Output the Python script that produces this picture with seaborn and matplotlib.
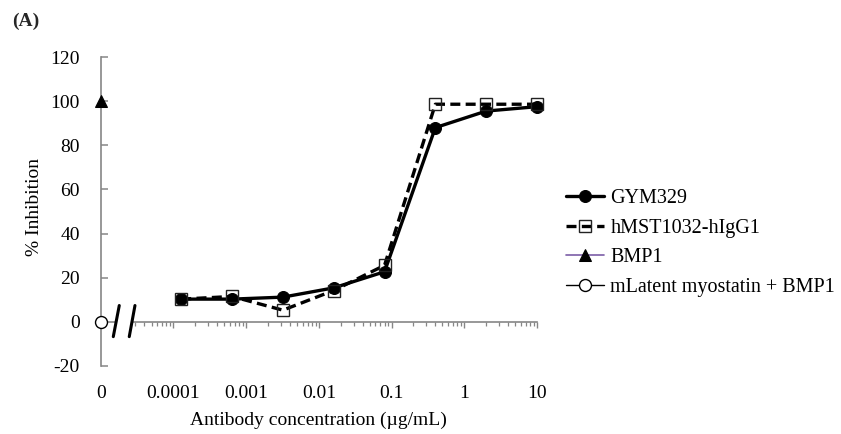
import numpy as np
import pandas as pd
import matplotlib
matplotlib.use("Agg")
import matplotlib.pyplot as plt
from matplotlib.ticker import FixedLocator, NullLocator
import seaborn as sns

# ---------------- data ----------------
conc = [0.000128, 0.00064, 0.0032, 0.016, 0.08, 0.4, 2, 10]
gym329 = [10.3, 10.3, 11.2, 15.4, 22.7, 88.0, 95.5, 97.5]
hmst1032 = [10.3, 11.5, 5.3, 14.2, 25.6, 98.6, 98.6, 98.6]
ctrl_conc = [0]
bmp1 = [100]
mlatent_bmp1 = [0]
xtick_vals = [0, 0.0001, 0.001, 0.01, 0.1, 1, 10]
xtick_labels = ["0", "0.0001", "0.001", "0.01", "0.1", "1", "10"]
yticks = [-20, 0, 20, 40, 60, 80, 100, 120]

ZERO_POS = 1e-5  # where "0" sits on the broken log axis

def xpos(v):
    return [ZERO_POS if c == 0 else c for c in v]

# ---------------- style ----------------
sns.set_theme(style="white")
plt.rcParams["font.family"] = ["Liberation Serif", "DejaVu Serif"]
plt.rcParams["axes.unicode_minus"] = False
FS = 14
GRAY = "#868686"

fig = plt.figure(figsize=(8.41, 4.34), dpi=100)
ax = fig.add_axes([100.7 / 841, 68 / 434, 436.3 / 841, 309 / 434])

df_g = pd.DataFrame({"x": conc, "y": gym329})
df_h = pd.DataFrame({"x": conc, "y": hmst1032})
df_b = pd.DataFrame({"x": xpos(ctrl_conc), "y": bmp1})
df_m = pd.DataFrame({"x": xpos(ctrl_conc), "y": mlatent_bmp1})

sns.lineplot(data=df_g, x="x", y="y", ax=ax, color="black", lw=2.4,
             marker="o", markersize=8.6, markerfacecolor="black",
             markeredgecolor="black", label="GYM329", zorder=3)
sns.lineplot(data=df_h, x="x", y="y", ax=ax, color="black", lw=2.4,
             linestyle=(0, (3, 1.6)), marker="s", markersize=8.6,
             markerfacecolor="none", markeredgecolor="#222222",
             markeredgewidth=1.0, label="hMST1032-hIgG1", zorder=4)
sns.lineplot(data=df_b, x="x", y="y", ax=ax, color="#7b5ea7", lw=1.2,
             marker="^", markersize=9, markerfacecolor="black",
             markeredgecolor="black", label="BMP1", zorder=5)
sns.lineplot(data=df_m, x="x", y="y", ax=ax, color="black", lw=1.0,
             marker="o", markersize=8.6, markerfacecolor="white",
             markeredgecolor="black", markeredgewidth=1.0,
             label="mLatent myostatin + BMP1", zorder=5)
for ln in ax.lines:
    ln.set_clip_on(False)

ax.set_xscale("log")
ax.set_xlim(ZERO_POS, 10)
ax.set_ylim(-20, 120)
ax.set_yticks(yticks)
ax.set_yticklabels([str(v) for v in yticks], fontsize=FS)
ax.set_xlabel("")

# spines
for s in ["top", "right"]:
    ax.spines[s].set_visible(False)
ax.spines["left"].set_color(GRAY)
ax.spines["left"].set_linewidth(1.2)
ax.spines["bottom"].set_position(("data", 0))
ax.spines["bottom"].set_color(GRAY)
ax.spines["bottom"].set_linewidth(1.2)
ax.spines["bottom"].set_bounds(2.75e-5, 10)

ax.tick_params(axis="y", direction="in", length=5, width=1.1, color=GRAY,
               pad=15, labelcolor="black", left=True)
major = [v for v in xtick_vals if v > 0]
minor = [k * 10.0 ** d for d in range(-5, 1) for k in range(2, 10)
         if k * 10.0 ** d > 2.8e-5]
ax.xaxis.set_major_locator(FixedLocator(major))
ax.xaxis.set_minor_locator(FixedLocator(minor))
ax.tick_params(axis="x", which="major", direction="out", length=4.5,
               width=1.0, color=GRAY, labelbottom=False, bottom=True)
ax.tick_params(axis="x", which="minor", direction="out", length=3,
               width=0.9, color=GRAY, labelbottom=False, bottom=True)

# secondary axis carrying the tick labels at the bottom
sec = ax.secondary_xaxis("bottom")
sec.xaxis.set_major_locator(FixedLocator(xpos(xtick_vals)))
sec.xaxis.set_minor_locator(NullLocator())
sec.set_xticklabels(xtick_labels, fontsize=FS)
sec.tick_params(axis="x", length=0, pad=14, labelcolor="black")
sec.spines["bottom"].set_visible(False)

# axis break decoration
ax.plot([ZERO_POS, 1.55e-5], [0, 0], color=GRAY, lw=1.2, zorder=2,
        clip_on=False)
for x0, x1 in [(1.49e-5, 1.80e-5), (2.47e-5, 2.96e-5)]:
    ax.plot([x0, x1], [-6.7, 7.4], color="black", lw=2.2, zorder=6,
            clip_on=False)

ax.set_ylabel("% Inhibition", fontsize=FS, color="black")
ax.yaxis.set_label_coords((43 - 100.7) / 436.3, (366 - 207) / 309)
sec.set_xlabel("Antibody concentration (\u00b5g/mL)", fontsize=FS,
               color="black", labelpad=7)

fig.text(12 / 841, 1 - 21 / 434, "(A)", fontsize=FS, fontweight="bold",
         va="center", ha="left")

leg = ax.legend(loc="center left", bbox_to_anchor=(566 / 841, 1 - 243 / 434),
                bbox_transform=fig.transFigure, frameon=False, fontsize=14.5,
                handlelength=1.9, handletextpad=0.3, labelspacing=0.52,
                borderpad=0, borderaxespad=0)
for t in leg.get_texts():
    t.set_color("black")

fig.savefig("out.png", dpi=100)
